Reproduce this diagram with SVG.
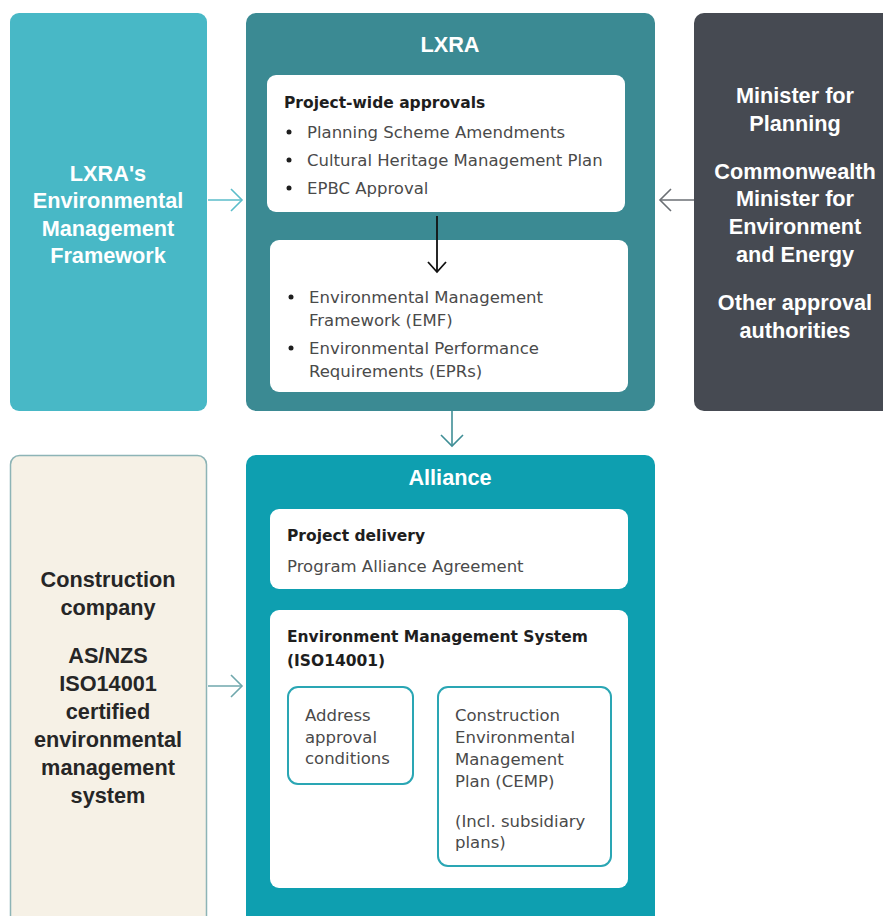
<svg xmlns="http://www.w3.org/2000/svg" width="883" height="916" viewBox="0 0 883 916">
<defs>
<style>
.t{font-family:"Liberation Sans",Arial,sans-serif}
.d{font-family:"DejaVu Sans","Liberation Sans",sans-serif}
.big{font-size:21.7px;font-weight:bold;text-anchor:middle}
.w{fill:#ffffff}
.hd{font-size:15.5px;font-weight:bold;fill:#1e1e1e}
.bd{font-size:16.5px;fill:#4a4a4a}
.sb{font-size:16.5px;fill:#4a4a4a}
.inner{fill:#ffffff}
.sub{fill:#ffffff;stroke:#2aa6b4;stroke-width:2}
</style>
<marker id="chevT" markerWidth="14" markerHeight="24" refX="12" refY="12" orient="auto" markerUnits="userSpaceOnUse">
<path d="M1,1 L12,12 L1,23" fill="none" stroke="#5bbdca" stroke-width="1.6"/>
</marker>
<marker id="chevG" markerWidth="14" markerHeight="24" refX="12" refY="12" orient="auto" markerUnits="userSpaceOnUse">
<path d="M1,1 L12,12 L1,23" fill="none" stroke="#6b6f74" stroke-width="1.6"/>
</marker>
<marker id="chevD" markerWidth="14" markerHeight="24" refX="12" refY="12" orient="auto" markerUnits="userSpaceOnUse">
<path d="M1,1 L12,12 L1,23" fill="none" stroke="#3f8e96" stroke-width="1.6"/>
</marker>
<marker id="chevB" markerWidth="14" markerHeight="24" refX="12" refY="12" orient="auto" markerUnits="userSpaceOnUse">
<path d="M2,3 L12,12 L2,21" fill="none" stroke="#111111" stroke-width="1.8"/>
</marker>
<marker id="chevS" markerWidth="14" markerHeight="24" refX="12" refY="12" orient="auto" markerUnits="userSpaceOnUse">
<path d="M1,1 L12,12 L1,23" fill="none" stroke="#6fa7ac" stroke-width="1.6"/>
</marker>
</defs>
<rect width="883" height="916" fill="#ffffff"/>

<g id="lxra-emf">
<rect x="10" y="13" width="197" height="398" rx="9" fill="#48b8c6"/>
<text class="t big w" x="108" y="181">LXRA's</text>
<text class="t big w" x="108" y="208">Environmental</text>
<text class="t big w" x="108" y="236">Management</text>
<text class="t big w" x="108" y="263">Framework</text>
</g>

<g id="lxra">
<rect x="246" y="13" width="409" height="398" rx="10" fill="#3b8a93"/>
<text class="t big w" x="450" y="52">LXRA</text>
<g id="project-wide-approvals">
<rect class="inner" x="267" y="75" width="358" height="137" rx="9"/>
<text class="d hd" x="284" y="108">Project-wide approvals</text>
<circle cx="289" cy="132" r="2.5" fill="#1e1e1e"/>
<circle cx="289" cy="160" r="2.5" fill="#1e1e1e"/>
<circle cx="289" cy="188" r="2.5" fill="#1e1e1e"/>
<text class="d bd" x="307" y="138">Planning Scheme Amendments</text>
<text class="d bd" x="307" y="166">Cultural Heritage Management Plan</text>
<text class="d bd" x="307" y="194">EPBC Approval</text>
</g>
<g id="emf-epr">
<rect class="inner" x="270" y="240" width="358" height="152" rx="9"/>
<circle cx="291" cy="297" r="2.5" fill="#1e1e1e"/>
<circle cx="291" cy="348" r="2.5" fill="#1e1e1e"/>
<text class="d bd" x="309" y="303">Environmental Management</text>
<text class="d bd" x="309" y="326">Framework (EMF)</text>
<text class="d bd" x="309" y="354">Environmental Performance</text>
<text class="d bd" x="309" y="377">Requirements (EPRs)</text>
</g>
</g>

<g id="authorities">
<rect x="694" y="13" width="200" height="398" rx="10" fill="#464a52"/>
<text class="t big w" x="795" y="103">Minister for</text>
<text class="t big w" x="795" y="131">Planning</text>
<text class="t big w" x="795" y="179">Commonwealth</text>
<text class="t big w" x="795" y="206">Minister for</text>
<text class="t big w" x="795" y="234">Environment</text>
<text class="t big w" x="795" y="262">and Energy</text>
<text class="t big w" x="795" y="310">Other approval</text>
<text class="t big w" x="795" y="338">authorities</text>
</g>

<g id="construction-company">
<rect x="10.5" y="455.5" width="196" height="470" rx="9" fill="#f6f1e6" stroke="#8db4b6" stroke-width="1.5"/>
<text class="t big" fill="#262626" x="108" y="587">Construction</text>
<text class="t big" fill="#262626" x="108" y="615">company</text>
<text class="t big" fill="#262626" x="108" y="663">AS/NZS</text>
<text class="t big" fill="#262626" x="108" y="691">ISO14001</text>
<text class="t big" fill="#262626" x="108" y="719">certified</text>
<text class="t big" fill="#262626" x="108" y="747">environmental</text>
<text class="t big" fill="#262626" x="108" y="775">management</text>
<text class="t big" fill="#262626" x="108" y="803">system</text>
</g>

<g id="alliance">
<rect x="246" y="455" width="409" height="475" rx="10" fill="#0e9fb0"/>
<text class="t big w" x="450" y="485">Alliance</text>
<g id="project-delivery">
<rect class="inner" x="270" y="509" width="358" height="80" rx="9"/>
<text class="d hd" x="287" y="541">Project delivery</text>
<text class="d bd" x="287" y="572">Program Alliance Agreement</text>
</g>
<g id="ems">
<rect class="inner" x="270" y="610" width="358" height="278" rx="9"/>
<text class="d hd" x="287" y="642">Environment Management System</text>
<text class="d hd" x="287" y="666">(ISO14001)</text>
<g id="address-approval">
<rect class="sub" x="288" y="687" width="125" height="97" rx="10"/>
<text class="d sb" x="305" y="721">Address</text>
<text class="d sb" x="305" y="743">approval</text>
<text class="d sb" x="305" y="764">conditions</text>
</g>
<g id="cemp">
<rect class="sub" x="438" y="687" width="173" height="179" rx="10"/>
<text class="d sb" x="455" y="721">Construction</text>
<text class="d sb" x="455" y="743">Environmental</text>
<text class="d sb" x="455" y="765">Management</text>
<text class="d sb" x="455" y="787">Plan (CEMP)</text>
<text class="d sb" x="455" y="827">(Incl. subsidiary</text>
<text class="d sb" x="455" y="848">plans)</text>
</g>
</g>
</g>

<g id="connectors" fill="none">
<line x1="208" y1="200" x2="242" y2="200" stroke="#5bbdca" stroke-width="1.6" marker-end="url(#chevT)"/>
<line x1="694" y1="200" x2="660" y2="200" stroke="#6b6f74" stroke-width="1.6" marker-end="url(#chevG)"/>
<line x1="452" y1="411" x2="452" y2="446" stroke="#3f8e96" stroke-width="1.6" marker-end="url(#chevD)"/>
<line x1="437" y1="216" x2="437" y2="272" stroke="#111111" stroke-width="1.8" marker-end="url(#chevB)"/>
<line x1="208" y1="686" x2="242" y2="686" stroke="#6fa7ac" stroke-width="1.6" marker-end="url(#chevS)"/>
</g>
</svg>
